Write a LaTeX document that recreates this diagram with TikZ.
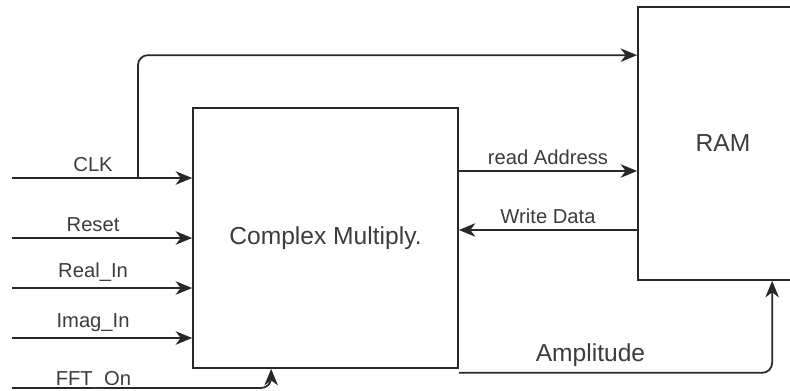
\documentclass[tikz,border=0pt]{standalone}
\usepackage{fontspec}
\setmainfont{Liberation Sans}
\usetikzlibrary{arrows.meta,calc}
\definecolor{wire}{RGB}{40,40,40}
\definecolor{txt}{RGB}{60,60,60}
\begin{document}
\begin{tikzpicture}[x=0.02cm,y=-0.02cm,
    box/.style={draw=wire,line width=1pt},
    sig/.style={draw=wire,line width=1pt,-{Stealth[length=0.33cm,width=0.27cm,inset=0.1cm]}},
    lbl/.style={text=txt,font=\fontsize{11.5}{13}\selectfont},
    big/.style={text=txt,font=\fontsize{14}{16}\selectfont}]
            \useasboundingbox (0,0) rectangle (790,391);
            \node [box,big,minimum width=5.3cm,minimum height=5.2cm] (cm) at (325.5,238) {Complex Multiply.};
            \node [box,big,minimum width=3.4cm,minimum height=5.46cm] (ram) at (723,143.5) {RAM};
            \coordinate (clk-in) at (12,178);
            \coordinate (rst-in) at (12,238);
            \coordinate (re-in) at (12,288);
            \coordinate (im-in) at (12,338);
            \coordinate (fft-in) at (12,388);
            \coordinate (clk-br) at (138,178);
            \coordinate (rd) at (548,171);
            \coordinate (wd) at (548,230);
            \draw [sig] (clk-in) -- (cm.west |- clk-in) node [lbl,above,pos=.45] {CLK};
            \draw [sig] (rst-in) -- (cm.west |- rst-in) node [lbl,above,pos=.45] {Reset};
            \draw [sig] (re-in) -- (cm.west |- re-in) node [lbl,above,pos=.45] {Real\_In};
            \draw [sig] (im-in) -- (cm.west |- im-in) node [lbl,above,pos=.45] {Imag\_In};
            \draw [sig,rounded corners=0.2cm] (fft-in) -| ($(cm.south west)+(79,0)$) node [lbl,above,pos=.157,yshift=-0.16cm] {FFT\_On};
            \draw [sig,rounded corners=0.2cm] (clk-br) |- ($(ram.north west)+(0,49)$);
            \draw [sig] (cm.east |- rd) -- (ram.west |- rd) node [lbl,above,midway] {read Address};
            \draw [sig] (ram.west |- wd) -- (cm.east |- wd) node [lbl,above,midway] {Write Data};
            \draw [sig,rounded corners=0.2cm] ($(cm.south east)+(0,4)$) -| ($(ram.south west)+(135,0)$) node [big,above,pos=.21] {Amplitude};
        \end{tikzpicture}
\end{document}
